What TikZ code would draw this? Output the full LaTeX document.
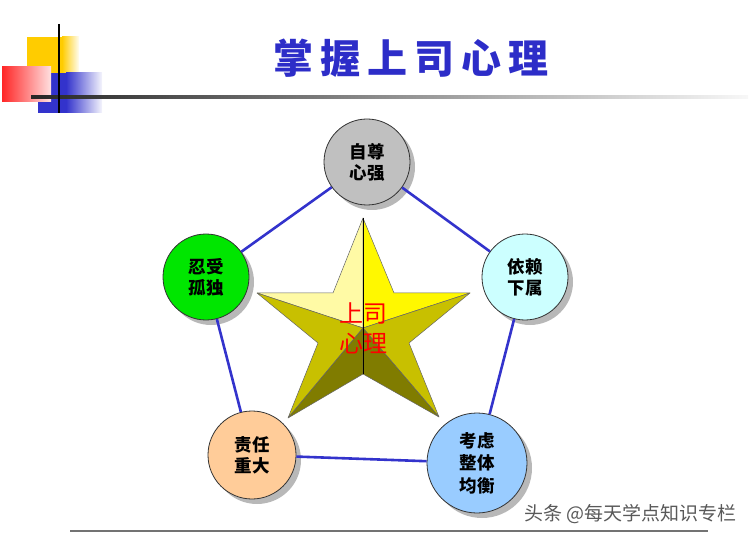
\documentclass[tikz,border=0pt]{standalone}
\usepackage{fontspec}
\usetikzlibrary{shadows}
\newfontfamily\cjk{Noto Sans CJK SC}
\newfontfamily\cjktitle{Noto Sans CJK SC Black}
\definecolor{gold}{RGB}{255,204,0}
\definecolor{linkblue}{RGB}{51,51,204}
\definecolor{titleblue}{RGB}{45,45,200}
\definecolor{silverc}{RGB}{192,192,192}
\definecolor{greenc}{RGB}{0,230,0}
\definecolor{cyanc}{RGB}{204,255,255}
\definecolor{peachc}{RGB}{255,204,153}
\definecolor{bluec}{RGB}{153,204,255}
\definecolor{ylight}{RGB}{255,250,165}
\definecolor{ybright}{RGB}{255,248,0}
\definecolor{olivem}{RGB}{200,192,0}
\definecolor{olived}{RGB}{128,124,0}
\tikzset{
  circ/.style={circle, draw=black!80, line width=0.8pt, minimum size=86pt, inner sep=0pt,
    font=\cjk\bfseries\fontsize{17.5}{21}\selectfont, align=center,
    drop shadow={shadow xshift=5pt, shadow yshift=-5pt, fill=black!28, opacity=1}},
  edge/.style={draw=linkblue, line width=2.6pt},
  facet/.style={draw=black!60, line width=0.5pt, line join=round}
}
\begin{document}
\begin{tikzpicture}[x=1pt, y=-1pt]
\useasboundingbox (0,0) rectangle (750,540);
% decoration
\fill[gold] (27,37) rectangle (62,90);
\shade[left color=gold, right color=gold!5] (62,37) rectangle (79,90);
\fill[linkblue] (38,73) rectangle (66,113);
\shade[left color=linkblue, right color=linkblue!5] (66,73) rectangle (102,113);
\shade[left color=red!85, right color=red!12] (2,67) rectangle (51,102);
\shade[left color=black!85, right color=black!3] (31,96) rectangle (748,98.5);
\draw[black, line width=1.5pt] (59,24) -- (59,113);
% title
\node[font=\cjktitle\fontsize{40}{44}\selectfont, text=titleblue] (title) at (411,58) {掌\hspace{7pt}握\hspace{7pt}上\hspace{7pt}司\hspace{7pt}心\hspace{7pt}理};
% circles
\node[circ, fill=silverc] (zz) at (367,162) {自尊\\心强};
\node[circ, fill=greenc] (rs) at (206,277) {忍受\\孤独};
\node[circ, fill=cyanc] (yl) at (525,277) {依赖\\下属};
\node[circ, fill=peachc, minimum size=88pt] (zr) at (252,455) {责任\\重大};
\node[circ, fill=bluec, minimum size=100pt, font=\cjk\bfseries\fontsize{17.5}{22.5}\selectfont] (kl) at (477,463) {考虑\\整体\\均衡};
% edges
\draw[edge] (zz) -- (rs);
\draw[edge] (zz) -- (yl);
\draw[edge] (rs) -- (zr);
\draw[edge] (zr) -- (kl);
\draw[edge] (yl) -- (kl);
% star
\coordinate (T) at (363,218);
\coordinate (L) at (257,293);
\coordinate (R) at (470,293);
\coordinate (BL) at (288,418);
\coordinate (BR) at (439,417);
\coordinate (C) at (363,328);
\coordinate (iTL) at (333,293);
\coordinate (iTR) at (394,293);
\coordinate (iL) at (318,343);
\coordinate (iR) at (409,343);
\coordinate (iB) at (363,374);
\filldraw[facet, fill=ylight] (T) -- (iTL) -- (L) -- (C) -- cycle;
\filldraw[facet, fill=ybright] (T) -- (iTR) -- (R) -- (C) -- cycle;
\filldraw[facet, fill=olivem] (L) -- (iL) -- (BL) -- (C) -- cycle;
\filldraw[facet, fill=olivem] (R) -- (iR) -- (BR) -- (C) -- cycle;
\filldraw[facet, fill=olived] (BL) -- (iB) -- (C) -- cycle;
\filldraw[facet, fill=olived] (BR) -- (iB) -- (C) -- cycle;
\draw[black, line width=0.8pt] (T) -- (iB);
\node[font=\cjk\fontsize{24}{30}\selectfont, text=red, align=center] (boss) at (363,328) {上司\\心理};
% footer
\coordinate (fl) at (70,531);
\coordinate (fr) at (708,531);
\draw[black!55, line width=2pt] (fl) -- (fr);
\node[font=\cjk\fontsize{19}{20}\selectfont, text=black!65, anchor=west] (wm) at (521,514) {头条 @每天学点知识专栏};
\end{tikzpicture}
\end{document}
